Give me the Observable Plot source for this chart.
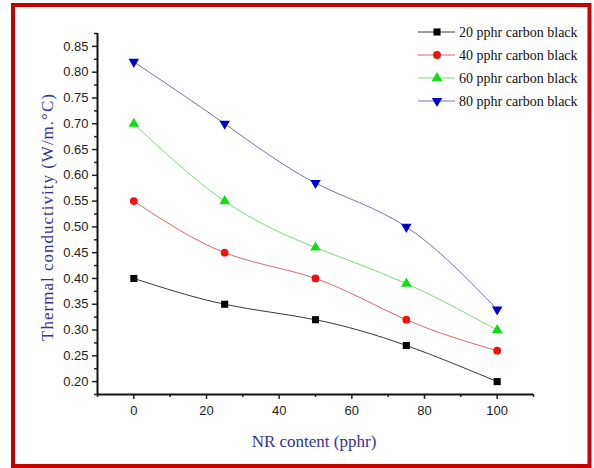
<!DOCTYPE html>
<html>
<head>
<meta charset="utf-8">
<script src="https://cdn.jsdelivr.net/npm/d3@7"></script>
<script src="https://cdn.jsdelivr.net/npm/@observablehq/plot@0.6"></script>
<style>
  html, body { margin: 0; padding: 0; background: #fff; }
  #chart { width: 594px; height: 468px; }
  #chart svg { font-family: "Liberation Sans", Arial, sans-serif; }
  #chart svg text.serif { font-family: "Liberation Serif", "Times New Roman", serif; }
</style>
</head>
<body>
<div id="chart"></div>
<script>
// ---- data ----
const nrContent = [0, 25, 50, 75, 100];
const cb20 = [0.40, 0.35, 0.32, 0.27, 0.20];
const cb40 = [0.55, 0.45, 0.40, 0.32, 0.26];
const cb60 = [0.70, 0.55, 0.46, 0.39, 0.30];
const cb80 = [0.82, 0.70, 0.585, 0.50, 0.34];
const seriesNames = ["20 pphr carbon black", "40 pphr carbon black", "60 pphr carbon black", "80 pphr carbon black"];
const xTicks = [0, 20, 40, 60, 80, 100];
const xMinorTicks = [-10, 10, 30, 50, 70, 90, 110];
const yTicks = [0.20, 0.25, 0.30, 0.35, 0.40, 0.45, 0.50, 0.55, 0.60, 0.65, 0.70, 0.75, 0.80, 0.85];
const yMinorTicks = [0.175, 0.225, 0.275, 0.325, 0.375, 0.425, 0.475, 0.525, 0.575, 0.625, 0.675, 0.725, 0.775, 0.825, 0.875];
const xTitle = "NR content (pphr)";
const yTitle = "Thermal conductivity (W/m.°C)";

// ---- styles ----
const triangleDown = {
  draw(context, size) {
    const y = Math.sqrt(size / (Math.sqrt(3) * 3));
    context.moveTo(0, 2 * y);
    context.lineTo(Math.sqrt(3) * y, -y);
    context.lineTo(-Math.sqrt(3) * y, -y);
    context.closePath();
  }
};
const seriesValues = [cb20, cb40, cb60, cb80];
const lineColors = ["#3a3a3a", "#d46a6a", "#7ddc7d", "#7474b4"];
const dotColors = ["#000000", "#ee1111", "#11dd11", "#0000cc"];
const symbols = ["square", "circle", "triangle", triangleDown];
const d3Symbols = [d3.symbolSquare, d3.symbolCircle, d3.symbolTriangle, triangleDown];
const radii = [4, 3.9, 3.9, 3.9];

const tables = seriesValues.map(vals => nrContent.map((x, i) => ({x, y: vals[i]})));

const marks = [];
tables.forEach((t, k) => {
  marks.push(Plot.line(t, {x: "x", y: "y", curve: "natural", stroke: lineColors[k], strokeWidth: 1}));
});
tables.forEach((t, k) => {
  marks.push(Plot.dot(t, {x: "x", y: "y", symbol: symbols[k], r: radii[k], fill: dotColors[k], stroke: "none"}));
});

const chart = Plot.plot({
  width: 594,
  height: 468,
  marginLeft: 97,
  marginRight: 61,
  marginTop: 33,
  marginBottom: 74,
  style: {fontSize: "13px", color: "#222", background: "#fff"},
  x: {domain: [-10, 110]},
  y: {domain: [0.175, 0.875]},
  marks: [
    ...marks,
    Plot.axisY({ticks: yTicks, tickSize: 5, tickPadding: 4, tickFormat: d3.format(".2f"), strokeWidth: 1.5, label: null, fill: "#222"}),
    Plot.axisY({ticks: yMinorTicks, tickSize: 3, text: null, strokeWidth: 1.5, label: null}),
    Plot.axisX({ticks: xTicks, tickSize: 5, tickPadding: 6, tickFormat: d3.format("d"), strokeWidth: 1.5, label: null, fill: "#222"}),
    Plot.axisX({ticks: xMinorTicks, tickSize: 3, text: null, strokeWidth: 1.5, label: null}),
    Plot.ruleX([-10], {stroke: "#111", strokeWidth: 2}),
    Plot.ruleY([0.175], {stroke: "#111", strokeWidth: 2})
  ]
});

document.getElementById("chart").appendChild(chart);

// ---- decorations: titles, legend, border ----
const svg = d3.select(chart);

svg.append("text")
  .attr("class", "serif")
  .attr("x", 314).attr("y", 441)
  .attr("text-anchor", "middle").attr("dominant-baseline", "central")
  .style("font-size", "17px").attr("fill", "#33339a")
  .text(xTitle);

svg.append("text")
  .attr("class", "serif")
  .attr("transform", "translate(47,217) rotate(-90)")
  .attr("text-anchor", "middle").attr("dominant-baseline", "central")
  .style("font-size", "17px").style("letter-spacing", "1px").attr("fill", "#33339a")
  .text(yTitle);

const legend = svg.append("g");
seriesNames.forEach((name, k) => {
  const cy = 32 + 23 * k;
  legend.append("line").attr("x1", 418).attr("x2", 455).attr("y1", cy).attr("y2", cy)
    .attr("stroke", lineColors[k]).attr("stroke-width", 1);
  legend.append("path")
    .attr("transform", `translate(437,${cy})`)
    .attr("d", d3.symbol().type(d3Symbols[k]).size(Math.PI * radii[k] * radii[k])())
    .attr("fill", dotColors[k]);
  legend.append("text")
    .attr("class", "serif")
    .attr("x", 459).attr("y", cy)
    .attr("text-anchor", "start").attr("dominant-baseline", "central")
    .style("font-size", "14px").attr("fill", "#111")
    .text(name);
});

svg.append("rect")
  .attr("x", 13).attr("y", 5).attr("width", 576.5).attr("height", 461)
  .attr("fill", "none").attr("stroke", "#c40000").attr("stroke-width", 4);
</script>
</body>
</html>
